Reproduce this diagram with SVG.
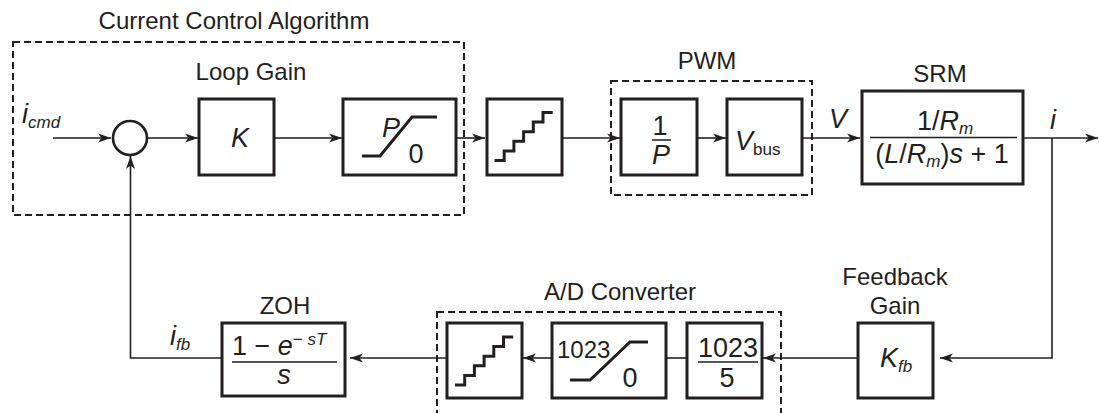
<svg xmlns="http://www.w3.org/2000/svg" width="1099" height="413" viewBox="0 0 1099 413">
<style>
  .box{fill:#fff;stroke:#231f20;stroke-width:3}
  .dash{fill:none;stroke:#231f20;stroke-width:2;stroke-dasharray:7,4}
  .wire{fill:none;stroke:#231f20;stroke-width:1.6}
  .thick{fill:none;stroke:#231f20;stroke-width:3}
  .frac{stroke:#231f20;stroke-width:1.5}
  .lbl{font-family:"Liberation Sans",Arial,sans-serif;font-size:24px;fill:#231f20;text-anchor:middle}
  .m{font-family:"Liberation Sans",Arial,sans-serif;font-size:27px;fill:#231f20}
  .it{font-style:italic}
  .sub{font-size:17px}
</style>
<defs>
  <marker id="arr" markerWidth="14" markerHeight="10" refX="13" refY="5" orient="auto" markerUnits="userSpaceOnUse">
    <path d="M0,0.5 L13,5 L0,9.5 L3.5,5 z" fill="#231f20"/>
  </marker>
</defs>

<g id="groups">
  <rect id="cca-frame" class="dash" x="13" y="42" width="451" height="173"/>
  <text class="lbl" x="234" y="29">Current Control Algorithm</text>
  <text class="lbl" x="251" y="80">Loop Gain</text>
  <rect id="pwm-frame" class="dash" x="611" y="81" width="201" height="114"/>
  <text class="lbl" x="707" y="69">PWM</text>
  <rect id="ad-frame" class="dash" x="437" y="312" width="344" height="110"/>
  <text class="lbl" x="620" y="300">A/D Converter</text>
</g>

<g id="connectors">
  <path class="wire" d="M53,138 H111" marker-end="url(#arr)"/>
  <path class="wire" d="M148,138 H198" marker-end="url(#arr)"/>
  <path class="wire" d="M274,138 H342" marker-end="url(#arr)"/>
  <path class="wire" d="M456,138 H485" marker-end="url(#arr)"/>
  <path class="wire" d="M562,138 H620" marker-end="url(#arr)"/>
  <path class="wire" d="M697,138 H726" marker-end="url(#arr)"/>
  <path class="wire" d="M802,138 H860" marker-end="url(#arr)"/>
  <path class="wire" d="M1023,138 H1098" marker-end="url(#arr)"/>
  <path class="wire" d="M1052,138 V358 H940" marker-end="url(#arr)"/>
  <path class="wire" d="M858,358 H763" marker-end="url(#arr)"/>
  <path class="wire" d="M687,358 H666"/>
  <path class="wire" d="M552,358 H523" marker-end="url(#arr)"/>
  <path class="wire" d="M447,358 H350" marker-end="url(#arr)"/>
  <path class="wire" d="M222,358 H130.5 V156" marker-end="url(#arr)"/>
</g>

<g id="sum">
  <circle cx="130" cy="138" r="17" fill="#fff" stroke="#231f20" stroke-width="2.6"/>
</g>
<g id="label-icmd">
  <text class="m it" x="22" y="123">i<tspan class="sub" dy="5">cmd</tspan></text>
</g>

<g id="gain-k">
  <rect class="box" x="199" y="99" width="75" height="76"/>
  <text class="m it" x="240" y="147" text-anchor="middle">K</text>
</g>

<g id="sat-p">
  <rect class="box" x="343" y="99" width="113" height="76"/>
  <path class="thick" d="M362,156 H380 L412,117 H437"/>
  <text class="m it" x="391" y="137" text-anchor="middle">P</text>
  <text class="m" x="416" y="163" text-anchor="middle">0</text>
</g>

<g id="quantizer-1">
  <rect class="box" x="487" y="99" width="75" height="76"/>
  <path class="thick" d="M494.5,160.5 h9.7 v-9.6 h9.7 v-9.6 h9.7 v-9.6 h9.7 v-9.6 h9.7 v-9.6 h9.7"/>
</g>

<g id="inv-p">
  <rect class="box" x="621" y="99" width="76" height="76"/>
  <text class="m" x="660" y="135" text-anchor="middle">1</text>
  <line class="frac" x1="652" y1="140" x2="671" y2="140"/>
  <text class="m it" x="661" y="164" text-anchor="middle">P</text>
</g>

<g id="vbus">
  <rect class="box" x="727" y="99" width="75" height="76"/>
  <text class="m" x="735" y="150"><tspan class="it">V</tspan><tspan class="sub" dy="5">bus</tspan></text>
</g>
<g id="label-v">
  <text class="m it" x="838" y="128" text-anchor="middle">V</text>
</g>

<g id="srm">
  <text class="lbl" x="940" y="82">SRM</text>
  <rect class="box" x="862" y="91" width="161" height="93"/>
  <text class="m" x="945" y="130" text-anchor="middle">1/<tspan class="it">R</tspan><tspan class="it sub" dy="4">m</tspan></text>
  <line class="frac" x1="870" y1="137.5" x2="1017" y2="137.5"/>
  <text class="m" x="942" y="163" text-anchor="middle">(<tspan class="it">L</tspan>/<tspan class="it">R</tspan><tspan class="it sub" dy="4">m</tspan><tspan dy="-4">)</tspan><tspan class="it">s</tspan> + 1</text>
</g>
<g id="label-i">
  <text class="m it" x="1053" y="129" text-anchor="middle">i</text>
</g>

<g id="feedback-gain">
  <text class="lbl" x="895" y="285">Feedback</text>
  <text class="lbl" x="895" y="314">Gain</text>
  <rect class="box" x="858" y="323" width="75" height="75"/>
  <text class="m" x="880" y="367"><tspan class="it">K</tspan><tspan class="it sub" dy="5">fb</tspan></text>
</g>

<g id="scale-1023-5">
  <rect class="box" x="687" y="323" width="75" height="75"/>
  <text class="m" x="728" y="357" text-anchor="middle">1023</text>
  <line class="frac" x1="698" y1="362" x2="758" y2="362"/>
  <text class="m" x="727" y="387" text-anchor="middle">5</text>
</g>

<g id="sat-1023">
  <rect class="box" x="552" y="323" width="114" height="75"/>
  <text class="m" x="557" y="358" style="font-size:24px">1023</text>
  <path class="thick" d="M570,380 H590 L630,342 H648"/>
  <text class="m" x="630" y="387" text-anchor="middle">0</text>
</g>

<g id="quantizer-2">
  <rect class="box" x="447" y="323" width="75" height="75"/>
  <path class="thick" d="M455,385 h9.7 v-9.6 h9.7 v-9.6 h9.7 v-9.6 h9.7 v-9.6 h9.7 v-9.6 h9.7"/>
</g>

<g id="zoh">
  <text class="lbl" x="285" y="314">ZOH</text>
  <rect class="box" x="222" y="323" width="123" height="73"/>
  <text class="m" x="232" y="355">1 − <tspan class="it">e</tspan><tspan class="sub" dy="-10">− </tspan><tspan class="it sub">sT</tspan></text>
  <line class="frac" x1="232" y1="362" x2="337" y2="362"/>
  <text class="m it" x="284" y="384" text-anchor="middle">s</text>
</g>
<g id="label-ifb">
  <text class="m it" x="170" y="345">i<tspan class="sub" dy="5">fb</tspan></text>
</g>
</svg>
